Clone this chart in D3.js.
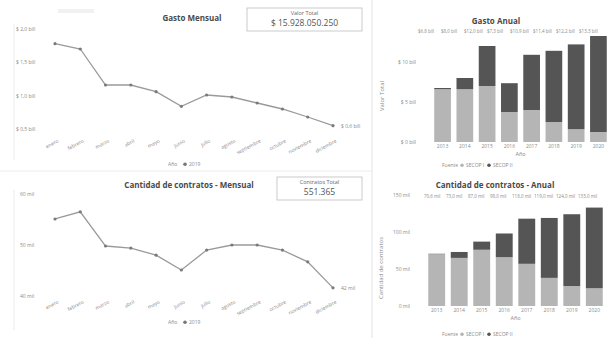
<!DOCTYPE html>
<html lang="es">
<head>
  <meta charset="UTF-8">
  <title>Contratación - Tablero</title>
  <script src="https://d3js.org/d3.v7.min.js"></script>
  <style>
    body { margin: 0; background: #fff; font-family: 'Open Sans', 'DejaVu Sans', sans-serif; }
    svg text { fill: #8a8a8a; }
    .title { fill: #4a4a4a; font-weight: bold; font-size: 8px; }
    .small { font-size: 5px; }
    .tot { font-size: 4.5px; }
  </style>
</head>
<body>
<svg id="board" width="609" height="338"></svg>
<script>
  // months and years
  var meses = ['enero', 'febrero', 'marzo', 'abril', 'mayo', 'junio', 'julio',
    'agosto', 'septiembre', 'octubre', 'noviembre', 'diciembre'];
  var anios = ['2013', '2014', '2015', '2016', '2017', '2018', '2019', '2020'];

  // monthly spend (miles de millones) and monthly contract count (miles)
  var gastoMensual = [1.78, 1.70, 1.16, 1.16, 1.06, 0.84, 1.01, 0.98, 0.89, 0.80, 0.68, 0.55];
  var contratosMensual = [55.1, 56.5, 49.8, 49.4, 48.0, 45.1, 49.0, 50.0, 50.0, 49.0, 46.7, 41.6];

  // yearly spend by source (miles de millones)
  var gastoSecop1 = [6.6, 6.6, 7.0, 3.75, 4.0, 2.5, 1.6, 1.25];
  var gastoSecop2 = [0.15, 1.4, 5.0, 3.6, 6.9, 8.9, 10.6, 12.0];

  // yearly contracts by source (miles)
  var contSecop1 = [70, 65, 76, 66, 57, 38, 27, 24];
  var contSecop2 = [0.6, 8, 11, 32, 61, 81, 97, 109];

  var gastoTicks = [0.5, 1, 1.5, 2];
  var contTicks = [40, 50, 60];
  var gastoAnualTicks = [0, 5, 10];
  var contAnualTicks = [0, 50, 100, 150];

  var fuentes = ['SECOP I', 'SECOP II'];
  var colores = ['#b5b5b5', '#555555'];

  var svg = d3.select('#board');

  // faint panel separators
  svg.append('line').attr('x1', 372).attr('x2', 372).attr('y1', 0).attr('y2', 338)
    .attr('stroke', '#e4e4e4');
  svg.append('line').attr('x1', 0).attr('x2', 372).attr('y1', 171).attr('y2', 171)
    .attr('stroke', '#ececec');
  svg.append('line').attr('x1', 14).attr('x2', 14).attr('y1', 24).attr('y2', 160)
    .attr('stroke', '#ececec');
  svg.append('line').attr('x1', 14).attr('x2', 14).attr('y1', 190).attr('y2', 330)
    .attr('stroke', '#ececec');
  svg.append('rect').attr('x', 58).attr('y', 9).attr('width', 36).attr('height', 4)
    .attr('fill', '#f1f1f1');

  function kpi(x, y, w, h, label, value) {
    var g = svg.append('g');
    g.append('rect').attr('x', x).attr('y', y).attr('width', w).attr('height', h)
      .attr('fill', '#fff').attr('stroke', '#bdbdbd').attr('stroke-width', 0.8);
    g.append('text').attr('x', x + w / 2).attr('y', y + 7).attr('text-anchor', 'middle')
      .attr('font-size', '5.5px').style('fill', '#666').text(label);
    g.append('text').attr('x', x + w / 2).attr('y', y + 18).attr('text-anchor', 'middle')
      .attr('font-size', '8.5px').style('fill', '#555').text(value);
  }

  function lineChart(opts) {
    var x = d3.scalePoint().domain(meses).range([55, 333]);
    var y = d3.scaleLinear().domain(opts.domain).range(opts.yRange);
    var g = svg.append('g');

    g.append('text').attr('class', 'title').attr('x', opts.titleX).attr('y', opts.titleY)
      .attr('text-anchor', 'middle').text(opts.title);

    // y tick labels
    g.selectAll('.yt').data(opts.ticks).enter().append('text')
      .attr('class', 'small').attr('x', opts.tickX).attr('y', function (d) { return y(d) + 2; })
      .text(opts.tickFmt);

    // x labels rotated
    g.selectAll('.xt').data(meses).enter().append('text')
      .attr('class', 'small')
      .attr('transform', function (d) {
        return 'translate(' + (x(d) + 4) + ',' + opts.labelY + ') rotate(-28)';
      })
      .attr('text-anchor', 'end').text(function (d) { return d; });

    var line = d3.line()
      .x(function (d, i) { return x(meses[i]); })
      .y(function (d) { return y(d); });

    g.append('path').datum(opts.values).attr('d', line)
      .attr('fill', 'none').attr('stroke', '#9a9a9a').attr('stroke-width', 1.3);

    g.selectAll('circle').data(opts.values).enter().append('circle')
      .attr('cx', function (d, i) { return x(meses[i]); })
      .attr('cy', function (d) { return y(d); })
      .attr('r', 1.6).attr('fill', '#7a7a7a');

    var last = opts.values[opts.values.length - 1];
    g.append('text').attr('class', 'small')
      .attr('x', x(meses[meses.length - 1]) + 8).attr('y', y(last) + 2)
      .text(opts.tickFmt(last));

    // legend
    g.append('text').attr('class', 'small').attr('x', 168).attr('y', opts.legendY).text('Año');
    g.append('circle').attr('cx', 185).attr('cy', opts.legendY - 1.7).attr('r', 1.8)
      .attr('fill', '#777');
    g.append('text').attr('class', 'small').attr('x', 189).attr('y', opts.legendY).text('2019');
  }

  function barChart(opts) {
    var x = d3.scaleBand().domain(anios).range(opts.xRange).paddingInner(0.25).paddingOuter(0.1);
    var y = d3.scaleLinear().domain(opts.domain).range(opts.yRange);
    var g = svg.append('g');

    g.append('text').attr('class', 'title').attr('x', opts.titleX).attr('y', opts.titleY)
      .attr('text-anchor', 'middle').text(opts.title);

    var stacked = anios.map(function (a, i) {
      return {anio: a, parts: [opts.s1[i], opts.s2[i]]};
    });

    // row of total labels
    g.selectAll('.tot').data(stacked).enter().append('text')
      .attr('class', 'tot')
      .attr('x', function (d, i) { return opts.totX + i * opts.totStep; })
      .attr('y', opts.totY)
      .text(function (d) { return opts.totFmt(d.parts[0] + d.parts[1]); });

    g.selectAll('.yt').data(opts.ticks).enter().append('text')
      .attr('class', 'small').attr('text-anchor', 'end')
      .attr('x', opts.xRange[0] - 16).attr('y', function (d) { return y(d) + 2; })
      .text(opts.tickFmt);

    g.append('text').attr('font-size', '6px')
      .attr('transform', 'translate(' + opts.axisTitleX + ',' + opts.axisTitleY + ') rotate(-90)')
      .attr('text-anchor', 'middle').text(opts.axisTitle);

    stacked.forEach(function (d) {
      var base = 0;
      d.parts.forEach(function (v, k) {
        g.append('rect')
          .attr('x', x(d.anio)).attr('width', x.bandwidth())
          .attr('y', y(base + v)).attr('height', y(base) - y(base + v))
          .attr('fill', colores[k]);
        base += v;
      });
    });

    var bottom = opts.yRange[0];
    g.selectAll('.xl').data(anios).enter().append('text')
      .attr('class', 'small').attr('text-anchor', 'middle')
      .attr('x', function (d) { return x(d) + x.bandwidth() / 2; })
      .attr('y', bottom + 6).text(function (d) { return d; });

    var mid = (opts.xRange[0] + opts.xRange[1]) / 2;
    g.append('text').attr('font-size', '5.5px').attr('text-anchor', 'middle')
      .attr('x', mid).attr('y', bottom + 14).text('Año');

    var lg = g.append('g').attr('transform', 'translate(442,' + opts.legendY + ')');
    lg.append('text').attr('class', 'small').attr('x', 0).attr('y', 0).text('Fuente');
    fuentes.forEach(function (f, k) {
      var ox = 20 + k * 27;
      lg.append('circle').attr('cx', ox).attr('cy', -1.7).attr('r', 1.8).attr('fill', colores[k]);
      lg.append('text').attr('class', 'small').attr('x', ox + 4).attr('y', 0).text(f);
    });
  }

  var fmtBill = function (d) { return '$ ' + d3.format(',.1f')(d).replace('.', ',') + ' bill'; };
  var fmtTotBill = function (d) { return '$' + d3.format('.1f')(d).replace('.', ',') + ' bill'; };
  var fmtMil = function (d) { return d3.format('.1f')(d).replace('.', ',') + ' mil'; };

  lineChart({
    title: 'Gasto Mensual', titleX: 192, titleY: 21,
    values: gastoMensual, domain: [0.5, 2], yRange: [129, 29], ticks: gastoTicks,
    tickFmt: fmtBill, tickX: 16, labelY: 142, legendY: 166
  });
  kpi(247, 8, 115, 23, 'Valor Total', '$ 15.928.050.250');

  lineChart({
    title: 'Cantidad de contratos - Mensual', titleX: 189, titleY: 188,
    values: contratosMensual, domain: [40, 60], yRange: [296, 194], ticks: contTicks,
    tickFmt: function (d) { return d3.format('.0f')(d) + ' mil'; }, tickX: 20,
    labelY: 303, legendY: 324
  });
  kpi(277, 177, 85, 23, 'Contratos Total', '551.365');

  barChart({
    title: 'Gasto Anual', titleX: 496, titleY: 24,
    s1: gastoSecop1, s2: gastoSecop2, domain: [0, 14], yRange: [142, 30], xRange: [432, 609],
    ticks: gastoAnualTicks, tickFmt: function (d) { return '$ ' + d + ' bill'; },
    totX: 418, totStep: 23, totY: 33, totFmt: fmtTotBill,
    axisTitle: 'Valor Total', axisTitleX: 384, axisTitleY: 96, legendY: 167
  });

  barChart({
    title: 'Cantidad de contratos - Anual', titleX: 495, titleY: 188,
    s1: contSecop1, s2: contSecop2, domain: [0, 150], yRange: [306, 195], xRange: [426, 605],
    ticks: contAnualTicks, tickFmt: function (d) { return d + ' mil'; },
    totX: 424, totStep: 22, totY: 198, totFmt: fmtMil,
    axisTitle: 'Cantidad de contratos', axisTitleX: 383, axisTitleY: 268, legendY: 336
  });
</script>
</body>
</html>
